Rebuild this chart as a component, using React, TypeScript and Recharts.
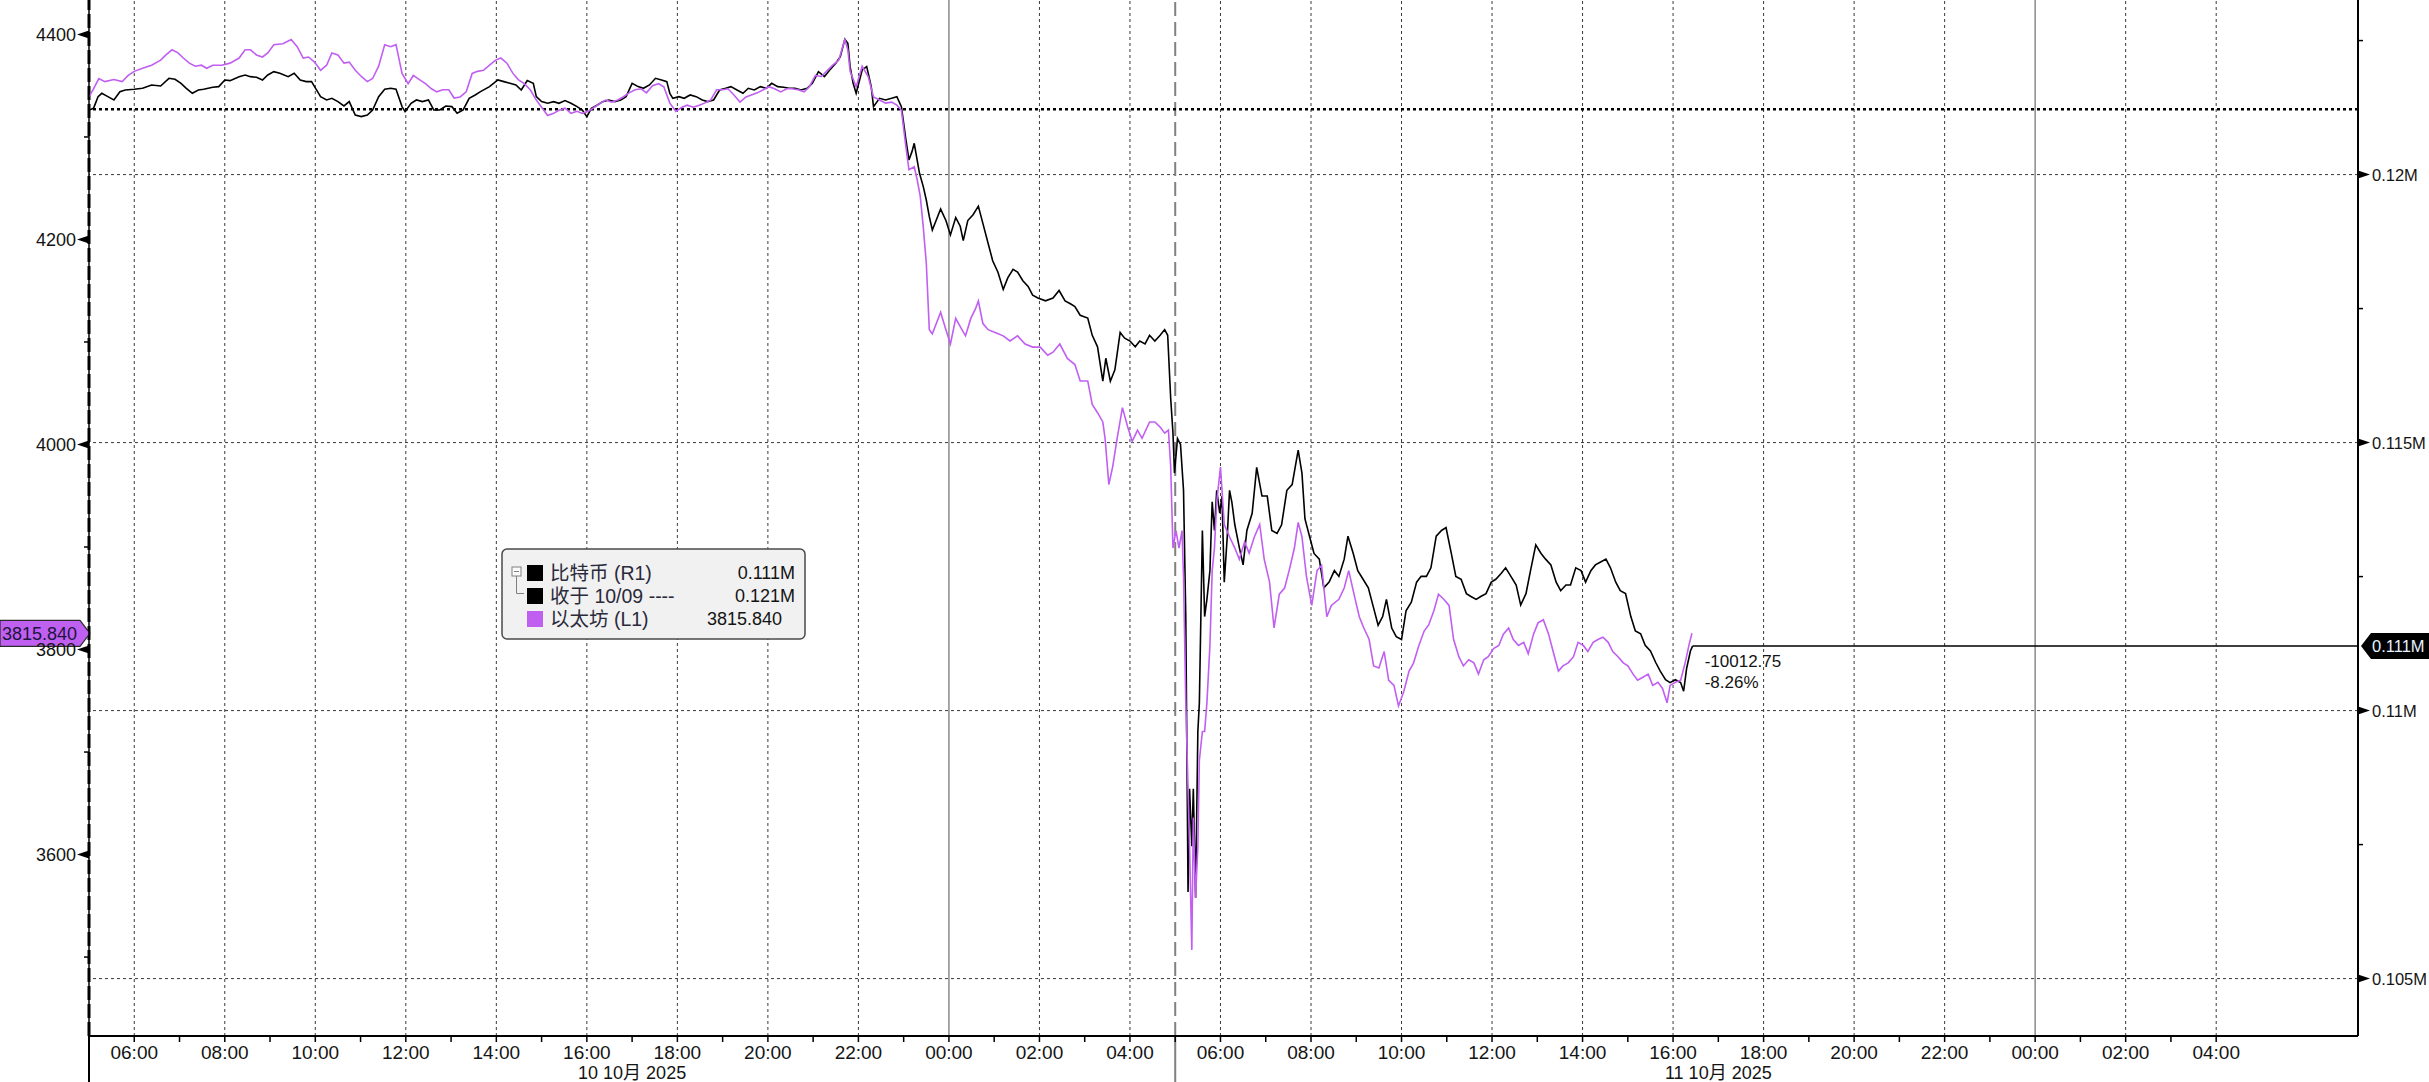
import React from 'react';
import { ComposedChart, Line, XAxis, YAxis, ReferenceLine } from 'recharts';

const W = 2429;
const H = 1082;
const FONT = "'Liberation Sans', Arial, 'Noto Sans CJK SC', sans-serif";

// time = minutes since 05:00, 10 Oct 2025
const xDomain: [number, number] = [0, 3008];
const ethDomain: [number, number] = [3423, 4433.6];
const btcDomain: [number, number] = [103929, 123257];

const ethPoints: [number, number][] = [
  [0,4339],[6,4347],[13,4357],[21,4354],[33,4356],[44,4354],[52,4360],[60,4364],[71,4367],[83,4370],[95,4375],[102,4380],[110,4385],[118,4382],[125,4377],[133,4372],[141,4369],[149,4370],[156,4367],[164,4370],[176,4370],[187,4372],[199,4377],[207,4385],[214,4385],[222,4380],[230,4378],[237,4382],[245,4390],[257,4391],[268,4395],[276,4388],[284,4377],[291,4378],[299,4373],[307,4365],[315,4370],[322,4382],[330,4380],[338,4372],[345,4373],[353,4365],[361,4359],[369,4354],[376,4357],[384,4369],[392,4390],[400,4388],[407,4390],[415,4362],[423,4352],[430,4360],[438,4356],[446,4352],[454,4347],[461,4344],[469,4346],[477,4346],[484,4338],[492,4339],[500,4344],[508,4362],[515,4364],[523,4365],[531,4370],[539,4375],[546,4377],[554,4372],[562,4362],[569,4356],[577,4352],[585,4346],[593,4336],[600,4329],[608,4321],[616,4323],[623,4326],[631,4328],[639,4323],[647,4325],[654,4323],[662,4325],[670,4329],[678,4333],[685,4336],[693,4334],[701,4336],[708,4339],[716,4343],[724,4346],[732,4347],[739,4343],[747,4350],[755,4352],[762,4349],[770,4333],[778,4325],[786,4329],[793,4331],[801,4329],[809,4331],[816,4333],[824,4336],[832,4346],[840,4346],[847,4347],[855,4341],[863,4334],[871,4339],[878,4341],[886,4343],[894,4346],[901,4349],[909,4347],[917,4344],[925,4347],[932,4347],[940,4346],[948,4344],[955,4349],[963,4360],[971,4359],[979,4365],[986,4370],[994,4375],[1002,4395],[1006,4385],[1009,4364],[1017,4349],[1025,4369],[1033,4359],[1040,4339],[1048,4336],[1056,4333],[1064,4334],[1071,4331],[1077,4326],[1083,4290],[1087,4268],[1094,4271],[1098,4258],[1102,4242],[1106,4212],[1110,4177],[1114,4112],[1118,4108],
  [1129,4129],[1136,4112],[1142,4098],[1149,4123],[1155,4115],[1162,4106],[1169,4123],[1175,4132],[1179,4140],[1185,4118],[1192,4112],[1202,4109],[1212,4106],[1221,4101],[1231,4106],[1241,4098],[1251,4095],[1261,4095],[1271,4087],[1278,4090],[1287,4098],[1297,4084],[1307,4078],[1314,4062],[1324,4062],[1330,4039],[1337,4031],[1344,4022],[1347,4006],[1352,3961],[1357,3978],[1363,4006],[1370,4036],[1377,4017],[1383,4003],[1390,4014],[1396,4006],[1406,4022],[1413,4022],[1420,4017],[1426,4011],[1431,4014],[1434,3978],[1437,3899],[1441,3916],[1445,3899],[1449,3916],[1451,3871],[1454,3748],[1457,3664],[1459,3608],[1462,3507],[1464,3636],[1467,3558],[1470,3608],[1472,3692],[1476,3720],[1479,3720],[1482,3748],[1486,3804],[1489,3877],[1492,3899],[1495,3944],[1500,3978],[1505,3922],[1512,3910],[1519,3899],[1525,3888],[1532,3905],[1538,3894],[1545,3910],[1552,3922],[1558,3888],[1565,3866],[1571,3821],[1578,3854],[1585,3860],[1591,3877],[1598,3899],[1603,3924],[1608,3910],[1614,3871],[1621,3843],[1628,3877],[1634,3882],[1641,3832],[1647,3843],[1657,3849],[1664,3860],[1670,3877],[1677,3854],[1684,3832],[1690,3821],[1697,3810],[1703,3784],[1710,3782],[1717,3798],[1723,3770],[1730,3765],[1736,3745],[1743,3759],[1750,3779],[1756,3787],[1763,3804],[1770,3818],[1776,3824],[1783,3838],[1789,3854],[1796,3849],[1803,3843],[1809,3810],[1816,3793],[1822,3784],[1829,3790],[1836,3787],[1842,3776],[1849,3790],[1855,3793],[1862,3801],[1869,3804],[1875,3815],[1882,3821],[1888,3810],[1895,3804],[1902,3807],[1908,3796],[1915,3815],[1921,3826],[1928,3829],[1935,3815],[1941,3798],[1948,3779],[1954,3784],[1961,3787],[1968,3793],[1974,3807],[1981,3804],[1987,3798],[1994,3807],[2001,3810],[2007,3812],[2014,3807],[2020,3798],[2027,3793],[2034,3787],[2040,3784],[2047,3776],[2053,3770],[2060,3773],[2067,3776],[2073,3765],[2080,3768],[2086,3762],[2092,3748],[2096,3765],[2103,3768],[2110,3770],[2116,3787],[2121,3804],[2125,3815.84]
];

const btcPoints: [number, number][] = [
  [0,121205],[6,121236],[12,121454],[17,121516],[25,121454],[33,121392],[41,121547],[48,121578],[60,121591],[71,121610],[83,121672],[95,121653],[106,121796],[114,121777],[122,121703],[129,121610],[137,121516],[145,121578],[152,121591],[164,121628],[172,121641],[180,121765],[187,121753],[199,121827],[207,121858],[214,121827],[222,121815],[230,121765],[237,121858],[245,121920],[253,121889],[264,121827],[272,121889],[280,121765],[288,121734],[295,121734],[299,121641],[307,121454],[315,121392],[322,121423],[330,121361],[338,121280],[345,121361],[353,121112],[361,121081],[369,121112],[376,121205],[384,121454],[392,121591],[400,121610],[407,121591],[415,121268],[419,121174],[427,121330],[434,121392],[442,121361],[450,121392],[457,121205],[465,121205],[473,121280],[481,121268],[488,121143],[496,121205],[504,121423],[512,121485],[519,121547],[531,121641],[542,121765],[550,121734],[558,121703],[566,121672],[573,121578],[581,121753],[589,121703],[593,121454],[600,121361],[608,121330],[616,121361],[623,121330],[631,121380],[639,121330],[647,121268],[654,121205],[660,121081],[666,121236],[674,121298],[681,121361],[689,121392],[697,121361],[705,121392],[712,121454],[720,121703],[728,121641],[735,121610],[743,121672],[751,121796],[759,121765],[766,121734],[770,121516],[774,121423],[782,121454],[789,121423],[797,121485],[805,121454],[813,121392],[820,121361],[828,121392],[836,121578],[844,121610],[851,121641],[859,121578],[867,121516],[874,121610],[882,121578],[890,121641],[898,121610],[905,121703],[913,121641],[921,121628],[928,121610],[936,121610],[944,121578],[952,121610],[959,121703],[967,121920],[975,121827],[982,121952],[990,122076],[996,122200],[1002,122524],[1006,122449],[1009,122014],[1013,121703],[1017,121516],[1025,121952],[1031,122014],[1037,121641],[1040,121268],[1048,121423],[1056,121392],[1064,121423],[1071,121454],[1077,121268],[1083,120646],[1087,120273],[1091,120428],[1094,120583],[1101,120024],[1106,119775],[1110,119526],[1114,119215],[1118,118967],
  [1129,119357],[1136,119143],[1142,118875],[1149,119197],[1155,119036],[1159,118768],[1165,119143],[1172,119250],[1179,119411],[1185,119090],[1192,118715],[1198,118393],[1205,118179],[1212,117858],[1218,118072],[1225,118233],[1231,118179],[1238,118019],[1245,117912],[1251,117751],[1258,117697],[1268,117644],[1278,117697],[1286,117837],[1294,117644],[1301,117590],[1307,117537],[1314,117376],[1324,117323],[1330,117001],[1337,116787],[1344,116145],[1348,116573],[1354,116145],[1360,116359],[1367,117055],[1373,116948],[1380,116894],[1387,116787],[1393,116894],[1400,116841],[1406,117001],[1413,116894],[1420,117001],[1426,117108],[1430,117001],[1434,115823],[1437,115181],[1439,114431],[1443,115074],[1447,114967],[1451,114110],[1454,111754],[1457,106614],[1459,108541],[1462,107470],[1464,108541],[1467,106507],[1470,109612],[1472,110148],[1476,113360],[1479,111754],[1482,112075],[1486,112611],[1489,113896],[1492,113360],[1495,114110],[1499,113682],[1502,114003],[1505,112396],[1509,113253],[1512,114110],[1515,113896],[1519,113467],[1525,113039],[1530,112718],[1535,113360],[1542,113682],[1548,114538],[1555,114003],[1562,114003],[1568,113360],[1575,113307],[1581,113467],[1588,114110],[1595,114217],[1599,114538],[1603,114859],[1608,114431],[1612,113575],[1618,113253],[1624,112932],[1631,112825],[1637,112289],[1644,112396],[1651,112611],[1657,112504],[1664,112825],[1669,113253],[1676,112932],[1682,112611],[1689,112450],[1696,112289],[1702,111968],[1709,111593],[1715,111754],[1720,112075],[1727,111540],[1733,111379],[1740,111326],[1746,111861],[1753,112022],[1760,112396],[1766,112504],[1773,112504],[1779,112664],[1786,113253],[1793,113360],[1799,113414],[1806,112932],[1812,112504],[1819,112450],[1826,112182],[1832,112129],[1839,112075],[1845,112129],[1852,112182],[1859,112396],[1865,112450],[1872,112557],[1878,112664],[1885,112504],[1892,112343],[1898,111968],[1905,112182],[1911,112611],[1918,113093],[1925,112932],[1931,112825],[1938,112718],[1945,112396],[1951,112236],[1958,112343],[1964,112343],[1971,112664],[1978,112611],[1984,112396],[1991,112611],[1997,112718],[2004,112771],[2011,112825],[2017,112664],[2024,112396],[2030,112236],[2037,112182],[2044,111754],[2050,111486],[2057,111433],[2063,111219],[2070,111111],[2077,110897],[2083,110737],[2090,110576],[2096,110522],[2103,110576],[2110,110522],[2114,110362],[2118,110790],[2123,111111],[2126,111207]
];

const leftMajor = [3600, 3800, 4000, 4200, 4400];
const leftMinor = [3500, 3700, 3900, 4100, 4300];
const rightMajor = [105000, 110000, 115000, 120000];
const rightMinor = [107500, 112500, 117500, 122500];
const rightLabels = ['0.105M', '0.11M', '0.115M', '0.12M'];
const hourTicks = Array.from({ length: 47 }, (_, i) => 60 + i * 60); // 06:00 10 Oct .. 04:00 12 Oct
const gridTimes = hourTicks.filter((t) => (t / 60) % 2 === 1);
const midnightTimes = [1140, 2580];
const sessionTimes = [0, 1440];
const dateLabels = [
  { t: 720, label: '10 10月 2025' },
  { t: 2160, label: '11 10月 2025' },
];

const prevClose = 121220;
const btcLast = 111207;
const btcLastT = 2126;
const ethLast = 3815.84;
const btcLastLabel = '0.111M';
const ethLastLabel = '3815.840';
const changeAbs = '-10012.75';
const changePct = '-8.26%';

const legendRows = [
  { name: '比特币 (R1)', value: '0.111M', color: '#000000' },
  { name: '收于 10/09 ----', value: '0.121M', color: '#000000' },
  { name: '以太坊 (L1)', value: '3815.840', color: '#c060f0' },
];

const ETH_COLOR = '#c15ff2';
const TEXT = '#141414';

const data = (() => {
  const m = new Map<number, any>();
  ethPoints.forEach(([t, v]) => {
    const r = m.get(t) || { t };
    r.eth = v;
    m.set(t, r);
  });
  btcPoints.forEach(([t, v]) => {
    const r = m.get(t) || { t };
    r.btc = v;
    m.set(t, r);
  });
  return Array.from(m.values()).sort((a, b) => a.t - b.t);
})();

const fmtHour = (t: number) => {
  const h = Math.round(5 + t / 60) % 24;
  return `${h < 10 ? '0' : ''}${h}:00`;
};

const XTick = (props: any) => {
  const { x, y, payload } = props;
  const t = payload.value;
  const even = (t / 60) % 2 === 1;
  const date = dateLabels.find((d) => d.t === t);
  return (
    <g>
      <line x1={x} x2={x} y1={y} y2={y + 6} stroke="#000" strokeWidth={1.5} />
      {even && (
        <text x={x} y={y + 16} dy="0.35em" textAnchor="middle" fontSize={19} fontFamily={FONT} fill={TEXT}>
          {fmtHour(t)}
        </text>
      )}
      {date && (
        <text x={x} y={y + 37} dy="0.35em" textAnchor="middle" fontSize={18} fontFamily={FONT} fill={TEXT}>
          {date.label}
        </text>
      )}
    </g>
  );
};

const LeftTick = (props: any) => {
  const { x, y, payload } = props;
  const v = payload.value;
  if (leftMajor.includes(v)) {
    return (
      <g>
        <path d={`M${x},${y - 4} L${x},${y + 4} L${x - 12},${y} Z`} fill="#000" />
        <text x={x - 13} y={y} dy="0.36em" textAnchor="end" fontSize={18} fontFamily={FONT} fill={TEXT}>
          {v}
        </text>
      </g>
    );
  }
  return <line x1={x - 5} x2={x} y1={y} y2={y} stroke="#000" strokeWidth={1.5} />;
};

const RightTick = (props: any) => {
  const { x, y, payload } = props;
  const v = payload.value;
  const idx = rightMajor.indexOf(v);
  if (idx >= 0) {
    return (
      <g>
        <path d={`M${x},${y - 4} L${x},${y + 4} L${x + 12},${y} Z`} fill="#000" />
        <text x={x + 14} y={y} dy="0.36em" textAnchor="start" fontSize={16.5} fontFamily={FONT} fill={TEXT}>
          {rightLabels[idx]}
        </text>
      </g>
    );
  }
  return <line x1={x} x2={x + 5} y1={y} y2={y} stroke="#000" strokeWidth={1.5} />;
};

const SessionExt = (color: string) => (props: any) => {
  const vb = props.viewBox || {};
  const bottom = (vb.y || 0) + (vb.height || 0);
  return <line x1={vb.x} x2={vb.x} y1={bottom} y2={H} stroke={color} strokeWidth={2} />;
};

const EthTag = (props: any) => {
  const vb = props.viewBox || {};
  const y = vb.y;
  const tip = vb.x + 1;
  return (
    <g>
      <path
        d={`M0,${y - 13} L${tip - 10},${y - 13} L${tip},${y} L${tip - 10},${y + 13} L0,${y + 13} Z`}
        fill="#c060f0"
        stroke="#2a2a2a"
        strokeWidth={1.2}
      />
      <text x={2} y={y} dy="0.36em" fontSize={18} fontFamily={FONT} fill="#1c1440">
        {ethLastLabel}
      </text>
    </g>
  );
};

const BtcEnd = (props: any) => {
  const vb = props.viewBox || {};
  const x0 = vb.x;
  const y = vb.y;
  const axisX = vb.x + vb.width;
  const tip = axisX + 3;
  return (
    <g>
      <text x={x0 + 12} y={y + 15} dy="0.36em" fontSize={17} fontFamily={FONT} fill={TEXT}>
        {changeAbs}
      </text>
      <text x={x0 + 12} y={y + 36} dy="0.36em" fontSize={17} fontFamily={FONT} fill={TEXT}>
        {changePct}
      </text>
      <path
        d={`M${tip},${y} L${tip + 10},${y - 13} L${W},${y - 13} L${W},${y + 13} L${tip + 10},${y + 13} Z`}
        fill="#000"
      />
      <text x={tip + 11} y={y} dy="0.36em" fontSize={16.5} fontFamily={FONT} fill="#e6f2ff">
        {btcLastLabel}
      </text>
    </g>
  );
};

const Legend = () => {
  const bx = 502;
  const by = 549;
  const rowY = [573, 596, 619];
  return (
    <svg width={W} height={H} style={{ position: 'absolute', left: 0, top: 0, pointerEvents: 'none' }}>
      <rect x={bx} y={by} width={303} height={90} rx={5} fill="#f1f1f1" stroke="#4a4a4a" strokeWidth={1.5} />
      <rect x={512} y={567} width={9} height={9} fill="#fafafa" stroke="#808080" strokeWidth={1} />
      <line x1={514} x2={519} y1={571.5} y2={571.5} stroke="#808080" strokeWidth={1} />
      <path d="M516.5,576 V593.5 H524" stroke="#808080" strokeWidth={1} fill="none" />
      {legendRows.map((r, i) => (
        <g key={i}>
          <rect x={527} y={rowY[i] - 8} width={16} height={16} fill={r.color} />
          <text x={550} y={rowY[i]} dy="0.36em" fontSize={19.5} fontFamily={FONT} fill="#2a2a3a">
            {r.name}
          </text>
          <text
            x={i === 2 ? 782 : 795}
            y={rowY[i]}
            dy="0.36em"
            textAnchor="end"
            fontSize={18}
            fontFamily={FONT}
            fill={TEXT}
          >
            {r.value}
          </text>
        </g>
      ))}
    </svg>
  );
};

export default function App() {
  return (
    <div style={{ position: 'absolute', left: 0, top: 0, width: W, height: H, background: '#fff' }}>
      <ComposedChart width={W} height={H} data={data} margin={{ top: 0, right: 0, bottom: 0, left: 0 }}>
        <XAxis
          dataKey="t"
          type="number"
          domain={xDomain}
          allowDataOverflow
          ticks={hourTicks}
          interval={0}
          tick={(p: any) => <XTick {...p} />}
          tickLine={false}
          tickSize={0}
          tickMargin={0}
          height={46}
          axisLine={{ stroke: '#000', strokeWidth: 2 }}
        />
        <YAxis
          yAxisId="eth"
          orientation="left"
          type="number"
          width={89}
          domain={ethDomain}
          allowDataOverflow
          ticks={[...leftMinor, ...leftMajor].sort((a, b) => a - b)}
          interval={0}
          tick={(p: any) => <LeftTick {...p} />}
          tickLine={false}
          tickSize={0}
          tickMargin={0}
          axisLine={{ stroke: '#000', strokeWidth: 1.5 }}
        />
        <YAxis
          yAxisId="btc"
          orientation="right"
          type="number"
          width={71}
          domain={btcDomain}
          allowDataOverflow
          ticks={[...rightMinor, ...rightMajor].sort((a, b) => a - b)}
          interval={0}
          tick={(p: any) => <RightTick {...p} />}
          tickLine={false}
          tickSize={0}
          tickMargin={0}
          axisLine={{ stroke: '#000', strokeWidth: 2 }}
        />

        {rightMajor.map((v) => (
          <ReferenceLine key={`h${v}`} yAxisId="btc" y={v} stroke="#3a3a3a" strokeWidth={1} strokeDasharray="3 3" />
        ))}
        {gridTimes
          .filter((t) => !midnightTimes.includes(t))
          .map((t) => (
            <ReferenceLine key={`v${t}`} yAxisId="btc" x={t} stroke="#3a3a3a" strokeWidth={1} strokeDasharray="3 3" />
          ))}
        {midnightTimes.map((t) => (
          <ReferenceLine key={`m${t}`} yAxisId="btc" x={t} stroke="#8a8a8a" strokeWidth={1.5} />
        ))}
        <ReferenceLine
          yAxisId="btc"
          x={sessionTimes[1]}
          stroke="#808080"
          strokeWidth={2}
          strokeDasharray="14 6"
          label={SessionExt('#808080')}
        />
        <ReferenceLine
          yAxisId="btc"
          x={sessionTimes[0]}
          stroke="#000"
          strokeWidth={3}
          strokeDasharray="14 4"
          label={SessionExt('#000')}
        />
        <ReferenceLine yAxisId="btc" y={prevClose} stroke="#000" strokeWidth={2.5} strokeDasharray="3 3" />

        <Line
          yAxisId="btc"
          dataKey="btc"
          type="linear"
          stroke="#000"
          strokeWidth={1.6}
          dot={false}
          activeDot={false}
          connectNulls
          isAnimationActive={false}
        />
        <Line
          yAxisId="eth"
          dataKey="eth"
          type="linear"
          stroke={ETH_COLOR}
          strokeWidth={1.6}
          dot={false}
          activeDot={false}
          connectNulls
          isAnimationActive={false}
        />

        <ReferenceLine
          yAxisId="btc"
          segment={[
            { x: btcLastT, y: btcLast },
            { x: xDomain[1], y: btcLast },
          ]}
          stroke="#000"
          strokeWidth={1.5}
          label={(p: any) => <BtcEnd {...p} />}
        />
        <ReferenceLine yAxisId="eth" y={ethLast} stroke="none" label={(p: any) => <EthTag {...p} />} />
      </ComposedChart>
      <Legend />
    </div>
  );
}
